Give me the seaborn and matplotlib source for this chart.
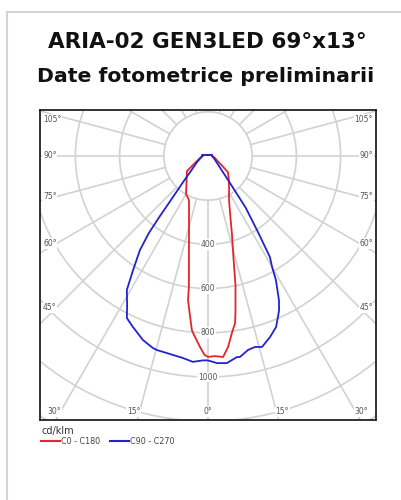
import numpy as np
import pandas as pd
import seaborn as sns
import matplotlib.pyplot as plt
from matplotlib.patches import Circle, Rectangle
from matplotlib.lines import Line2D

# ---------------- data (gamma in degrees from nadir, intensity in cd/klm) -------------
series_names = ["C0 - C180", "C90 - C270"]

c0_gamma = [0, 2, 4.3, 6, 7.7, 9.2, 10, 12, 14, 17, 20, 25.5, 33, 41, 51, 56, 65, 78, 90,
            104, 120, 150, 180]
c0_int = [909, 906, 912, 869, 808, 766, 716, 598, 477, 371, 297, 221, 175, 144, 116, 74, 44, 29, 18,
          19, 9, 5.2, 4.5]

c180_gamma = [0, 1, 2.4, 4.8, 5.3, 6.5, 7.9, 8.3, 10.4, 12, 15, 18, 23.4, 30, 40, 54.5, 65, 78, 90,
              99.5, 120, 150, 180]
c180_int = [909, 900, 865, 804, 791, 724, 658, 599, 478, 414, 332, 278, 217, 199, 151, 117, 56, 35, 23,
            27, 9, 5.2, 4.5]

c90_gamma = [0, 2.5, 5.2, 8.2, 9, 11.7, 13.8, 15.8, 18.9, 21.7, 23.5, 24.8, 26.2, 28.7, 30,
             31.5, 33.3, 36.1, 37.5, 40.6, 44, 53.5, 66.7, 90, 104, 120, 150, 180]
c90_int = [925, 938, 941, 919, 921, 896, 890, 898, 866, 833, 794, 767, 727, 640, 580,
           536, 412, 289, 208, 128, 88, 49, 31, 18, 19, 9, 5.2, 4.5]

c270_gamma = [0, 1.4, 4.2, 7.1, 10, 14.7, 16, 19.5, 23.7, 26.6, 28.5, 31.2, 33.3, 35.9, 37.5,
              38.5, 39.5, 41.2, 44, 49.5, 60, 75, 90, 99.5, 120, 150, 180]
c270_int = [925, 925, 934, 921, 914, 908, 904, 883, 845, 820, 767, 709, 617, 525, 440,
            360, 290, 220, 158, 98, 59, 35, 25, 27, 9, 5.2, 4.5]

radius_ticks = [400, 600, 800, 1000]
grid_radii = [200, 400, 600, 800, 1000, 1200, 1400, 1600]
side_angle_labels = [105, 90, 75, 60, 45]
bottom_angle_labels = [-30, -15, 0, 15, 30]

title1 = "ARIA-02 GEN3LED 69°x13°"
title2 = "Date fotometrice preliminarii"
unit_label = "cd/klm"
colors = ["#e3262d", "#2323cc"]

# ---------------- build table ----------------
def half(gam, inten, side):
    g = np.radians(np.asarray(gam, float))
    r = np.asarray(inten, float)
    return side * r * np.sin(g), -r * np.cos(g)

frames = []
for name, (lg, li), (rg, ri) in [
    (series_names[0], (c180_gamma, c180_int), (c0_gamma, c0_int)),
    (series_names[1], (c270_gamma, c270_int), (c90_gamma, c90_int)),
]:
    xl, yl = half(lg, li, -1)
    xr, yr = half(rg, ri, 1)
    xs = np.concatenate([xl[::-1], xr])
    ys = np.concatenate([yl[::-1], yr])
    frames.append(pd.DataFrame({"series": name, "x": xs, "y": ys}))
df = pd.concat(frames, ignore_index=True)

# ---------------- figure ----------------
W, H = 401, 500
fig = plt.figure(figsize=(W / 100, H / 100), dpi=100)
fig.patch.set_facecolor("white")
fig.patches.append(Rectangle((7 / W, -0.1), 1.2, 1 - 12 / H + 0.1, transform=fig.transFigure,
                             fill=False, edgecolor="#d4d4d4", lw=1.5))

renderer = fig.canvas.get_renderer()
def fitted_title(x_px, y_px, text, target_w, weight):
    t = fig.text(x_px / W, 1 - y_px / H, text, ha="center", va="baseline", fontsize=15,
                 fontweight=weight, family="DejaVu Sans", color="#111111")
    w = t.get_window_extent(renderer).width
    t.set_fontsize(15 * target_w / w)
    return t

fitted_title(207, 48, title1, 318, "bold")
fitted_title(205.5, 82, title2, 336, "bold")

box_l, box_r, box_t, box_b = 40, 376, 110, 420
cx, cy = 208, 156
k = 44.2 / 200.0  # px per cd
ax = fig.add_axes([box_l / W, 1 - box_b / H, (box_r - box_l) / W, (box_b - box_t) / H])
ax.set_xlim((box_l - cx) / k, (box_r - cx) / k)
ax.set_ylim((cy - box_b) / k, (cy - box_t) / k)
ax.set_xticks([])
ax.set_yticks([])
for s in ax.spines.values():
    s.set_color("#222222")
    s.set_linewidth(1.3)

grid_c = "#d2d2d2"
for r in grid_radii:
    ax.add_patch(Circle((0, 0), r, fill=False, ec=grid_c, lw=1.2, zorder=1))
for a in range(0, 360, 15):
    t = np.radians(a)
    ax.plot([200 * np.sin(t), 2500 * np.sin(t)], [-200 * np.cos(t), -2500 * np.cos(t)],
            color=grid_c, lw=1.2, zorder=1)

lab_kw = dict(fontsize=5.5, color="#555555", family="DejaVu Sans", zorder=3,
              bbox=dict(facecolor="white", edgecolor="none", pad=0.6))
x_cross = 152 / k
y_top_lim = (cy - box_t - 9) / k
for a in side_angle_labels:
    yv = -x_cross / np.tan(np.radians(a)) if a != 90 else 0.0
    yv = min(yv, y_top_lim)
    ax.text((box_l + 3 - cx) / k, yv, f"{a}°", ha="left", va="center", **lab_kw)
    ax.text((box_r - 3 - cx) / k, yv, f"{a}°", ha="right", va="center", **lab_kw)
y_bot = (cy - 412) / k
for a in bottom_angle_labels:
    xv = -y_bot * np.tan(np.radians(a))
    if a != 0:
        xv += np.sign(a) * 25
    ax.text(xv, y_bot, f"{abs(a)}°", ha="center", va="center", **lab_kw)
for r in radius_ticks:
    ax.text(0, -r, str(r), ha="center", va="center", **lab_kw)

sns.lineplot(data=df, x="x", y="y", hue="series", estimator=None, sort=False,
             palette=colors, lw=1.3, ax=ax, zorder=4, legend=False)
ax.set_xlabel("")
ax.set_ylabel("")

handles = [Line2D([], [], color=c, lw=1.5) for c in colors]
leg = ax.legend(handles, series_names, title=unit_label, loc="upper left",
                bbox_to_anchor=(41 / W, 1 - 426 / H), bbox_transform=fig.transFigure,
                ncol=2, frameon=False, fontsize=5.8, title_fontsize=7, alignment="left",
                borderpad=0, borderaxespad=0, handlelength=2.3, handletextpad=0.15,
                columnspacing=1.3, labelspacing=0.1)
for t in leg.get_texts():
    t.set_color("#444444")
leg.get_title().set_color("#333333")

fig.savefig("out.png", dpi=100, facecolor="white")
